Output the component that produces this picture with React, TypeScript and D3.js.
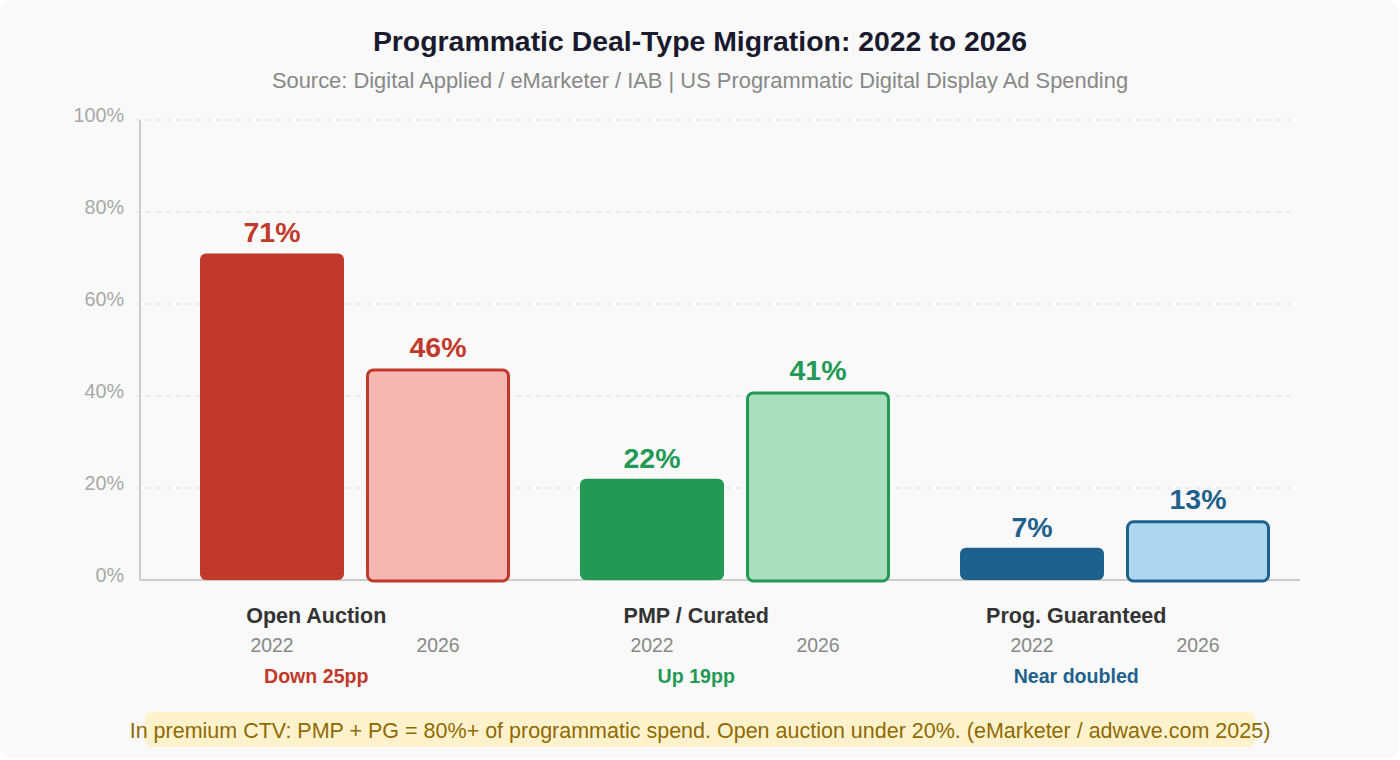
import React from 'react';
import * as d3 from 'd3';

// Chart data
const categories = ['Open Auction', 'PMP / Curated', 'Prog. Guaranteed'];
const years = ['2022', '2026'];
const share2022 = [71, 22, 7];
const share2026 = [46, 41, 13];
const changeNotes = ['Down 25pp', 'Up 19pp', 'Near doubled'];
const darkColors = ['#c0392b', '#229954', '#1f618d'];
const lightColors = ['#f5b7b1', '#a9dfbf', '#aed6f1'];
const yTicks = [0, 20, 40, 60, 80, 100];

const title = 'Programmatic Deal-Type Migration: 2022 to 2026';
const subtitle = 'Source: Digital Applied / eMarketer / IAB | US Programmatic Digital Display Ad Spending';
const footnote =
  'In premium CTV: PMP + PG = 80%+ of programmatic spend. Open auction under 20%. (eMarketer / adwave.com 2025)';

const FONT = '"Liberation Sans", Arial, sans-serif';

export default function App() {
  const width = 1400;
  const height = 760;

  // Plot area
  const plot = { left: 140, right: 1300, top: 120, bottom: 580 };

  // Scales
  const y = d3.scaleLinear().domain([0, 100]).range([plot.bottom, plot.top]);

  const x0 = d3
    .scaleBand<string>()
    .domain(categories)
    .range([200, 1270])
    .paddingInner(70 / 380)
    .paddingOuter(0);

  const x1 = d3
    .scaleBand<string>()
    .domain(years)
    .range([0, x0.bandwidth()])
    .paddingInner(22 / 166)
    .paddingOuter(0);

  const rows = categories.map((c, i) => ({
    category: c,
    values: [share2022[i], share2026[i]],
    note: changeNotes[i],
    dark: darkColors[i],
    light: lightColors[i],
  }));

  return (
    <div style={{ position: 'absolute', left: 0, top: 0, width, height, background: '#ffffff' }}>
      <svg width={width} height={height} style={{ display: 'block', fontFamily: FONT }}>
        {/* card background */}
        <rect x={0} y={0} width={1398} height={758} rx={12} fill="#f9f9f9" />

        {/* titles */}
        <text x={width / 2} y={51} textAnchor="middle" fontSize={28.4} fontWeight="bold" fill="#1a1a2e">
          {title}
        </text>
        <text x={width / 2} y={88} textAnchor="middle" fontSize={21.9} fill="#888888">
          {subtitle}
        </text>

        {/* gridlines + y tick labels */}
        {yTicks.map(t => (
          <g key={t}>
            {t > 0 && (
              <line
                x1={plot.left - 4}
                x2={plot.right - 5}
                y1={y(t)}
                y2={y(t)}
                stroke="#e6e6e6"
                strokeWidth={1.5}
                strokeDasharray="5,5"
              />
            )}
            <text x={124} y={y(t) + 2} textAnchor="end" fontSize={19.8} fill="#a8a8a8">
              {t}%
            </text>
          </g>
        ))}

        {/* axes */}
        <line x1={plot.left} x2={plot.left} y1={plot.top} y2={plot.bottom} stroke="#cccccc" strokeWidth={2} />
        <line x1={plot.left} x2={plot.right} y1={plot.bottom} y2={plot.bottom} stroke="#cccccc" strokeWidth={2} />

        {/* bars */}
        {rows.map(r => {
          const gx = x0(r.category) || 0;
          return (
            <g key={r.category} transform={`translate(${gx},0)`}>
              {years.map((yr, j) => {
                const v = r.values[j];
                const bx = x1(yr) || 0;
                const bw = x1.bandwidth();
                const isNew = j === 1;
                return (
                  <g key={yr}>
                    {isNew ? (
                      <rect
                        x={bx + 1.5}
                        y={y(v) + 1.5}
                        width={bw - 3}
                        height={plot.bottom - y(v) - 0.5}
                        rx={6}
                        fill={r.light}
                        stroke={r.dark}
                        strokeWidth={3}
                      />
                    ) : (
                      <rect
                        x={bx}
                        y={y(v)}
                        width={bw}
                        height={plot.bottom - y(v)}
                        rx={6}
                        fill={r.dark}
                      />
                    )}
                    <text
                      x={bx + bw / 2}
                      y={y(v) - 11}
                      textAnchor="middle"
                      fontSize={28.5}
                      fontWeight="bold"
                      fill={r.dark}
                    >
                      {v}%
                    </text>
                    <text x={bx + bw / 2} y={652} textAnchor="middle" fontSize={19.4} fill="#888888">
                      {yr}
                    </text>
                  </g>
                );
              })}
              <text
                x={x0.bandwidth() * 0.375}
                y={623}
                textAnchor="middle"
                fontSize={21.5}
                fontWeight="bold"
                fill="#333333"
              >
                {r.category}
              </text>
              <text
                x={x0.bandwidth() * 0.375}
                y={683}
                textAnchor="middle"
                fontSize={19.6}
                fontWeight="bold"
                fill={r.dark}
              >
                {r.note}
              </text>
            </g>
          );
        })}

        {/* footnote */}
        <rect x={145} y={712} width={1110} height={35} rx={6} fill="#fef2cd" />
        <text x={width / 2} y={738} textAnchor="middle" fontSize={21.5} fill="#8f6a00">
          {footnote}
        </text>
      </svg>
    </div>
  );
}
